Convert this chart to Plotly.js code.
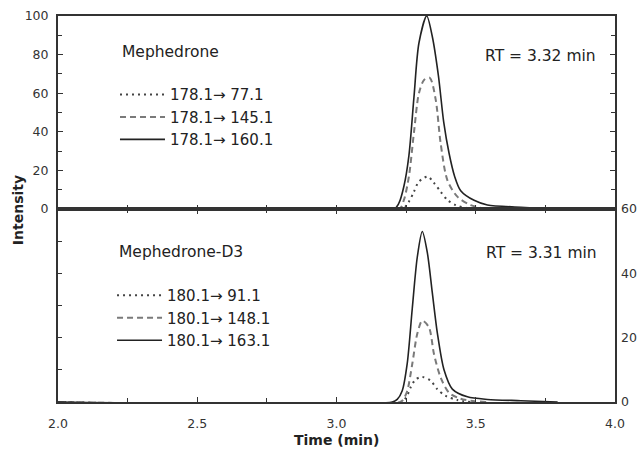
<!DOCTYPE html>
<html>
<head>
<meta charset="utf-8">
<script src="https://cdn.plot.ly/plotly-3.0.1.min.js"></script>
<style>html,body{margin:0;padding:0;background:#fff;}#chart{width:641px;height:457px;}</style>
</head>
<body>
<div id="chart"></div>
<script>
// ---- Top panel: Mephedrone ----
const tA77  = [2.00, 3.235, 3.260, 3.278, 3.296, 3.328, 3.350, 3.374, 3.398, 3.428, 3.470, 3.510];
const yA77  = [0, 0, 3.8, 9, 14.2, 16.8, 13.5, 9, 4.7, 2, 0.5, 0];
const tA145 = [2.00, 3.225, 3.242, 3.260, 3.278, 3.296, 3.315, 3.335, 3.356, 3.374, 3.398, 3.434, 3.482, 3.540];
const yA145 = [0, 0, 4.7, 16.8, 39.5, 60, 67, 68, 56.8, 34, 15, 6.4, 2, 0];
const tA160 = [2.00, 3.206, 3.224, 3.242, 3.260, 3.278, 3.296, 3.324, 3.344, 3.366, 3.385, 3.404, 3.424, 3.446, 3.494, 3.542, 3.662, 3.770];
const yA160 = [0, 0, 3, 11.8, 27.7, 57.7, 86, 100, 89.4, 69, 45, 29, 17, 9.5, 4.5, 2.1, 0.9, 0];

// ---- Bottom panel: Mephedrone-D3 ----
const tB91  = [2.00, 3.230, 3.250, 3.266, 3.284, 3.308, 3.338, 3.362, 3.392, 3.434, 3.480];
const yB91  = [0, 0, 1.4, 4.5, 7, 7.8, 6.6, 4, 1.9, 0.6, 0];
const tB148 = [2.00, 3.230, 3.240, 3.254, 3.272, 3.290, 3.308, 3.332, 3.350, 3.374, 3.404, 3.446, 3.490, 3.540];
const yB148 = [0, 0, 0.8, 3.4, 11.8, 21.2, 25.3, 23.2, 14.9, 7.6, 2.9, 1.0, 0.3, 0];
const tB163 = [2.00, 3.200, 3.218, 3.236, 3.254, 3.272, 3.290, 3.308, 3.326, 3.344, 3.362, 3.386, 3.416, 3.470, 3.542, 3.662, 3.794];
const yB163 = [0, 0, 0.8, 3.5, 12, 29, 45, 53, 46.5, 34, 21.5, 10, 4, 1.6, 0.8, 0.4, 0];

const namesA = ['178.1\u2192 77.1', '178.1\u2192 145.1', '178.1\u2192 160.1'];
const namesB = ['180.1\u2192 91.1', '180.1\u2192 148.1', '180.1\u2192 163.1'];
const rightTicks = [0, 20, 40, 60];

const FONT = 'DejaVu Sans, Arial, sans-serif';
const dotStyle  = {color: '#444', width: 2, dash: '2px,4px', shape: 'spline', smoothing: 0.8};
const dashStyle = {color: '#7a7a7a', width: 2, dash: '6px,4px', shape: 'spline', smoothing: 0.8};
const solStyle  = {color: '#222', width: 1.6, dash: 'solid', shape: 'spline', smoothing: 0.8};

const traces = [
  {x: tA77,  y: yA77,  name: namesA[0], mode: 'lines', line: dotStyle,  xaxis: 'x', yaxis: 'y', legend: 'legend'},
  {x: tA145, y: yA145, name: namesA[1], mode: 'lines', line: dashStyle, xaxis: 'x', yaxis: 'y', legend: 'legend'},
  {x: tA160, y: yA160, name: namesA[2], mode: 'lines', line: solStyle,  xaxis: 'x', yaxis: 'y', legend: 'legend'},
  {x: tB91,  y: yB91,  name: namesB[0], mode: 'lines', line: dotStyle,  xaxis: 'x2', yaxis: 'y2', legend: 'legend2'},
  {x: tB148, y: yB148, name: namesB[1], mode: 'lines', line: dashStyle, xaxis: 'x2', yaxis: 'y2', legend: 'legend2'},
  {x: tB163, y: yB163, name: namesB[2], mode: 'lines', line: solStyle,  xaxis: 'x2', yaxis: 'y2', legend: 'legend2'},
  {x: [2, 4], y: [0, 60], mode: 'markers', marker: {opacity: 0}, xaxis: 'x2', yaxis: 'y3', showlegend: false, hoverinfo: 'skip'}
];

const axLine = {showline: true, linecolor: '#333', linewidth: 2, showgrid: false, zeroline: false};
const tickFont = {family: FONT, size: 12.5, color: '#333'};

const layout = {
  width: 641, height: 457,
  margin: {l: 58, r: 26, t: 16, b: 55},
  paper_bgcolor: '#fff', plot_bgcolor: '#fff',
  font: {family: FONT, color: '#222'},
  xaxis: Object.assign({}, axLine, {domain: [0, 1], anchor: 'y', range: [2, 4], dtick: 0.25, tick0: 2,
    ticks: 'inside', ticklen: 4, tickcolor: '#333', showticklabels: false, mirror: true}),
  xaxis2: Object.assign({}, axLine, {domain: [0, 1], anchor: 'y2', range: [2, 4], dtick: 0.5, tick0: 2,
    tickformat: '.1f', ticks: 'inside', ticklen: 5, tickcolor: '#333', mirror: 'ticks', tickfont: tickFont,
    ticklabelstandoff: 9,
    minor: {dtick: 0.25, ticks: 'inside', ticklen: 4, tickcolor: '#333'}}),
  yaxis: Object.assign({}, axLine, {domain: [0.5, 1], anchor: 'x', range: [0, 100], dtick: 20,
    ticks: 'inside', ticklen: 5, tickcolor: '#333', mirror: 'ticks', tickfont: tickFont,
    ticklabelstandoff: 5,
    minor: {dtick: 10, ticks: 'inside', ticklen: 4, tickcolor: '#333'}}),
  yaxis2: Object.assign({}, axLine, {domain: [0, 0.5], anchor: 'x2', range: [0, 60], dtick: 10,
    ticks: 'inside', ticklen: 4, tickcolor: '#333', showticklabels: false, mirror: true}),
  yaxis3: {overlaying: 'y2', anchor: 'x2', side: 'right', range: [0, 60], tickvals: rightTicks,
    ticks: '', showline: false, showgrid: false, zeroline: false, tickfont: tickFont, ticklabelstandoff: 5},
  showlegend: true,
  legend: {x: 0.1023, y: 0.839, xanchor: 'left', yanchor: 'top', bgcolor: 'rgba(0,0,0,0)',
    font: {family: FONT, size: 15, color: '#222'}, itemwidth: 45, tracegroupgap: 0},
  legend2: {x: 0.097, y: 0.3187, xanchor: 'left', yanchor: 'top', bgcolor: 'rgba(0,0,0,0)',
    font: {family: FONT, size: 15, color: '#222'}, itemwidth: 45, tracegroupgap: 0},
  annotations: [
    {text: 'Mephedrone', xref: 'paper', yref: 'paper', x: 0.1113, y: 0.9067, xanchor: 'left', yanchor: 'middle',
      showarrow: false, font: {family: FONT, size: 15.5, color: '#222'}},
    {text: 'Mephedrone-D3', xref: 'paper', yref: 'paper', x: 0.1059, y: 0.3886, xanchor: 'left', yanchor: 'middle',
      showarrow: false, font: {family: FONT, size: 15.5, color: '#222'}},
    {text: 'RT = 3.32 min', xref: 'paper', yref: 'paper', x: 0.8654, y: 0.8964, xanchor: 'center', yanchor: 'middle',
      showarrow: false, font: {family: FONT, size: 15.5, color: '#222'}},
    {text: 'RT = 3.31 min', xref: 'paper', yref: 'paper', x: 0.868, y: 0.386, xanchor: 'center', yanchor: 'middle',
      showarrow: false, font: {family: FONT, size: 15.5, color: '#222'}},
    {text: '<b>Intensity</b>', xref: 'paper', yref: 'paper', x: -0.0718, y: 0.497, xanchor: 'center', yanchor: 'middle',
      textangle: -90, showarrow: false, font: {family: FONT, size: 14, color: '#222'}},
    {text: '<b>Time (min)</b>', xref: 'paper', yref: 'paper', x: 0.5, y: -0.0984, xanchor: 'center', yanchor: 'middle',
      showarrow: false, font: {family: FONT, size: 14, color: '#222'}}
  ]
};

Plotly.newPlot('chart', traces, layout, {staticPlot: true, displayModeBar: false});
</script>
</body>
</html>
